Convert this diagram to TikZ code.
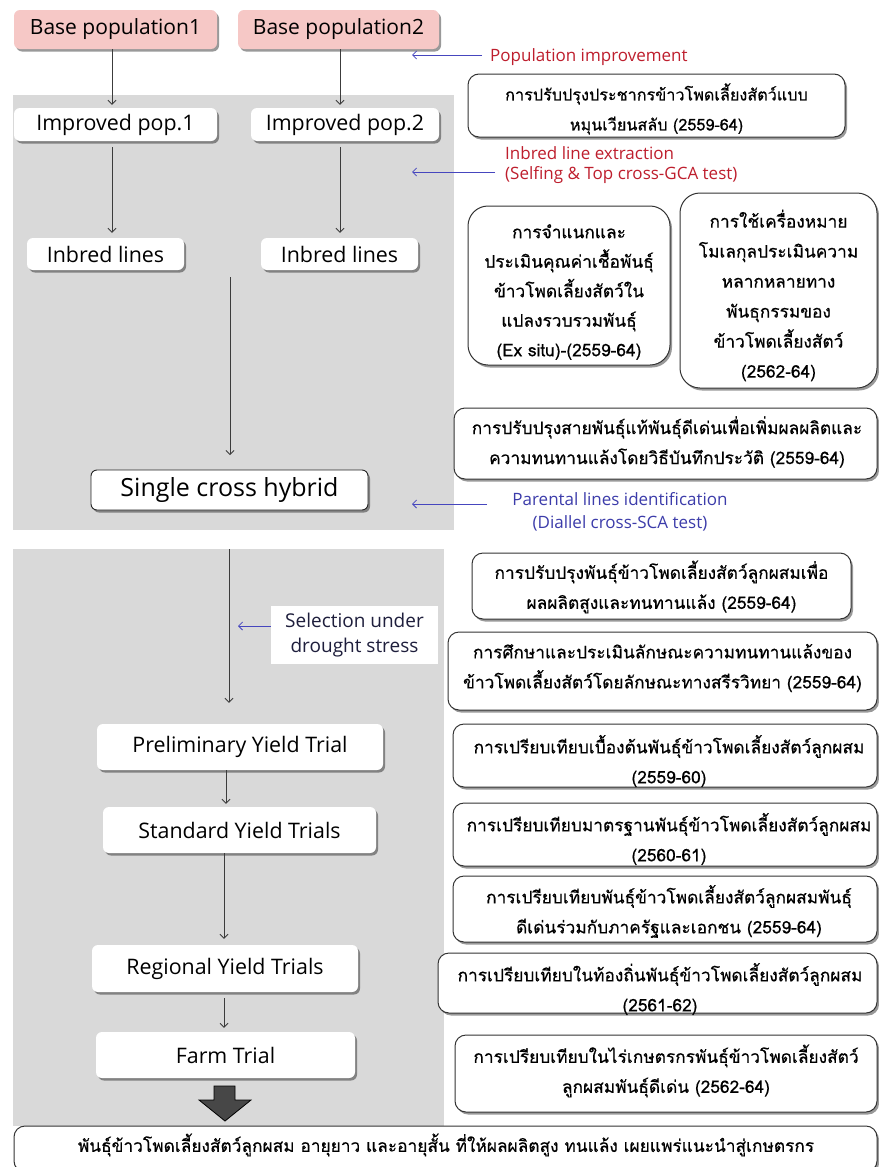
\documentclass[tikz,border=0pt]{standalone}
\usepackage{fontspec}
\setmainfont{Open Sans}
\newfontfamily\thai[Script=Thai,FakeBold=0.5]{Loma}
\usetikzlibrary{arrows.meta,shadows}
\definecolor{panel}{RGB}{217,217,217}
\definecolor{pinkfill}{RGB}{246,200,198}
\definecolor{labred}{RGB}{190,30,45}
\definecolor{arrblue}{RGB}{70,70,190}
\definecolor{parblue}{RGB}{60,60,170}
\definecolor{linegray}{RGB}{60,60,60}
\definecolor{selnavy}{RGB}{30,30,60}
\begin{document}
\begin{tikzpicture}[x=1pt,y=-1pt,
  shad/.style={drop shadow={shadow xshift=2pt,shadow yshift=-2.5pt,opacity=0.4,fill=black}},
  basebox/.style={rounded corners=6pt,fill=pinkfill,shad,inner sep=0pt,font=\fontsize{21}{25}\selectfont},
  whitebox/.style={rounded corners=6pt,fill=white,shad,inner sep=0pt,font=\fontsize{21.4}{25}\selectfont},
  bordbox/.style={whitebox,draw=black!85,line width=0.9pt},
  thaibox/.style={rounded corners=11pt,draw=black!80,line width=1pt,fill=white,shad,inner sep=0pt},
  thaitxt/.style={inner sep=0pt,align=center,font=\thai\fontsize{17.3}{30}\selectfont},
  redlab/.style={text=labred,inner sep=0pt,font=\fontsize{17}{20.5}\selectfont},
  arr/.style={draw=linegray,line width=0.8pt,-{Straight Barb[length=4pt,width=8pt]}},
  barr/.style={draw=arrblue,line width=0.8pt,-{Straight Barb[length=4pt,width=8pt]}}
]
\useasboundingbox (0,0) rectangle (878,1167);
\fill[white] (0,0) rectangle (878,1167);
% panels
\fill[panel] (13,95) rectangle (454,530);
\fill[panel] (13,549) rectangle (444,1126);

% left flow
\node[basebox,minimum width=203,minimum height=39] (base1) at (115.5,29.5) {Base population1};
\node[basebox,minimum width=201,minimum height=39] (base2) at (338.5,29.5) {Base population2};
\node[whitebox,minimum width=203,minimum height=33] (imp1) at (115.5,124.5) {Improved pop.1};
\node[whitebox,minimum width=188,minimum height=33] (imp2) at (345,124.5) {Improved pop.2};
\node[whitebox,minimum width=157,minimum height=32] (inb1) at (105.5,254) {Inbred lines};
\node[whitebox,minimum width=157,minimum height=32] (inb2) at (339.5,254) {Inbred lines};
\node[bordbox,minimum width=277,minimum height=40,font=\fontsize{25}{30}\selectfont] (sch) at (229.5,490) {Single cross hybrid};
\node[whitebox,minimum width=286,minimum height=46] (pyt) at (240,747) {Preliminary Yield Trial};
\node[whitebox,minimum width=273,minimum height=46] (syt) at (239.5,830) {Standard Yield Trials};
\node[whitebox,minimum width=266,minimum height=47] (ryt) at (225,968.5) {Regional Yield Trials};
\node[whitebox,minimum width=259,minimum height=46] (farm) at (225.5,1055) {Farm Trial};
\node[fill=white,inner sep=0pt,minimum width=167,minimum height=58,align=center,text=selnavy,font=\fontsize{19}{25}\selectfont] (sel) at (354.5,635) {Selection under\\drought stress};

\coordinate (freeA) at (230,277);
\coordinate (freeB) at (230,455);
\draw[arr] (base1.south -| 112,0) -- ([yshift=3pt]imp1.north -| 112,0);
\draw[arr] (base2.south -| 340,0) -- ([yshift=3pt]imp2.north -| 340,0);
\draw[arr] ([yshift=-6pt]imp1.south -| 112,0) -- ([yshift=5pt]inb1.north -| 112,0);
\draw[arr] ([yshift=-6pt]imp2.south -| 340,0) -- ([yshift=5pt]inb2.north -| 340,0);
\draw[arr] (freeA) -- (freeB);
\draw[arr] ([yshift=-39pt]sch.south -| 229,0) -- ([yshift=21pt]pyt.north -| 229,0);
\draw[arr] (pyt.south -| 226,0) -- ([yshift=3pt]syt.north -| 226,0);
\draw[arr] (syt.south -| 224,0) -- ([yshift=6pt]ryt.north -| 224,0);
\draw[arr] ([yshift=-6pt]ryt.south -| 224,0) -- ([yshift=4pt]farm.north -| 224,0);

% big arrow
\fill[black!72,draw=black,line width=0.8pt] (214,1086) -- (235,1086) -- (235,1100) -- (251,1100) -- (225,1121) -- (199,1100) -- (214,1100) -- cycle;

% labels
\node[redlab,anchor=west] (popimp) at (490,57) {Population improvement};
\coordinate (popA) at (412,55);
\draw[barr] ([xshift=-8pt,yshift=2pt]popimp.west) -- (popA);
\node[redlab,anchor=west,align=left] (ile) at (505,165) {Inbred line extraction\\(Selfing \& Top cross-GCA test)};
\coordinate (ileA) at (412,172);
\draw[barr] ([xshift=-10pt,yshift=-7pt]ile.west) -- (ileA);
\node[text=parblue,inner sep=0pt,align=center,font=\fontsize{17}{23}\selectfont] (pli) at (620,511.5) {Parental lines identification\\(Diallel cross-SCA test)};
\coordinate (pliA) at (412,504);
\draw[barr] ([xshift=-25pt,yshift=7.5pt]pli.west) -- (pliA);
\coordinate (selA) at (238,626);
\draw[barr] ([yshift=9pt]sel.west) -- (selA);

% right boxes
\node[thaibox,minimum width=377,minimum height=63] (r1) at (656.5,105.5) {};
\node[thaitxt,font=\thai\fontsize{16.2}{30}\selectfont] (r1t) at (656.5,109) {การปรับปรุงประชากรข้าวโพดเลี้ยงสัตว์แบบ\\หมุนเวียนสลับ (2559-64)};
\node[thaibox,rounded corners=20pt,minimum width=202,minimum height=159] (r2) at (569,285.5) {};
\node[thaitxt,font=\thai\fontsize{17.3}{29.5}\selectfont] (r2t) at (569,292) {การจำแนกและ\\ประเมินคุณค่าเชื้อพันธุ์\\ข้าวโพดเลี้ยงสัตว์ใน\\แปลงรวบรวมพันธุ์\\(Ex situ)-(2559-64)};
\node[thaibox,rounded corners=20pt,minimum width=197,minimum height=195] (r3) at (778.5,290.5) {};
\node[thaitxt] (r3t) at (778.5,295.5) {การใช้เครื่องหมาย\\โมเลกุลประเมินความ\\หลากหลายทาง\\พันธุกรรมของ\\ข้าวโพดเลี้ยงสัตว์\\(2562-64)};
\node[thaibox,minimum width=423,minimum height=71] (r4) at (665.5,443.5) {};
\node[thaitxt] (r4t) at (667,442) {การปรับปรุงสายพันธุ์แท้พันธุ์ดีเด่นเพื่อเพิ่มผลผลิตและ\\ความทนทานแล้งโดยวิธีบันทึกประวัติ (2559-64)};
\node[thaibox,minimum width=379,minimum height=66] (r5) at (661.5,586) {};
\node[thaitxt] (r5t) at (661.5,587) {การปรับปรุงพันธุ์ข้าวโพดเลี้ยงสัตว์ลูกผสมเพื่อ\\ผลผลิตสูงและทนทานแล้ง (2559-64)};
\node[thaibox,minimum width=429,minimum height=78] (r6) at (662.5,671) {};
\node[thaitxt] (r6t) at (662.5,668) {การศึกษาและประเมินลักษณะความทนทานแล้งของ\\ข้าวโพดเลี้ยงสัตว์โดยลักษณะทางสรีรวิทยา (2559-64)};
\node[thaibox,minimum width=424,minimum height=63] (r7) at (665,755.5) {};
\node[thaitxt] (r7t) at (669,761) {การเปรียบเทียบเบื้องต้นพันธุ์ข้าวโพดเลี้ยงสัตว์ลูกผสม\\(2559-60)};
\node[thaibox,minimum width=424,minimum height=63] (r8) at (665,834.5) {};
\node[thaitxt] (r8t) at (669,839) {การเปรียบเทียบมาตรฐานพันธุ์ข้าวโพดเลี้ยงสัตว์ลูกผสม\\(2560-61)};
\node[thaibox,minimum width=424,minimum height=66] (r9) at (665,909) {};
\node[thaitxt] (r9t) at (669,911.5) {การเปรียบเทียบพันธุ์ข้าวโพดเลี้ยงสัตว์ลูกผสมพันธุ์\\ดีเด่นร่วมกับภาครัฐและเอกชน (2559-64)};
\node[thaibox,minimum width=439,minimum height=60] (r10) at (657.5,983) {};
\node[thaitxt] (r10t) at (660,989) {การเปรียบเทียบในท้องถิ่นพันธุ์ข้าวโพดเลี้ยงสัตว์ลูกผสม\\(2561-62)};
\node[thaibox,minimum width=422,minimum height=77] (r11) at (666,1073.5) {};
\node[thaitxt] (r11t) at (666,1071) {การเปรียบเทียบในไร่เกษตรกรพันธุ์ข้าวโพดเลี้ยงสัตว์\\ลูกผสมพันธุ์ดีเด่น (2562-64)};
\node[thaibox,minimum width=863,minimum height=46] (final) at (445.5,1149) {};
\node[thaitxt] (finalt) at (446,1145) {พันธุ์ข้าวโพดเลี้ยงสัตว์ลูกผสม อายุยาว และอายุสั้น ที่ให้ผลผลิตสูง ทนแล้ง เผยแพร่แนะนำสู่เกษตรกร};
\end{tikzpicture}
\end{document}
